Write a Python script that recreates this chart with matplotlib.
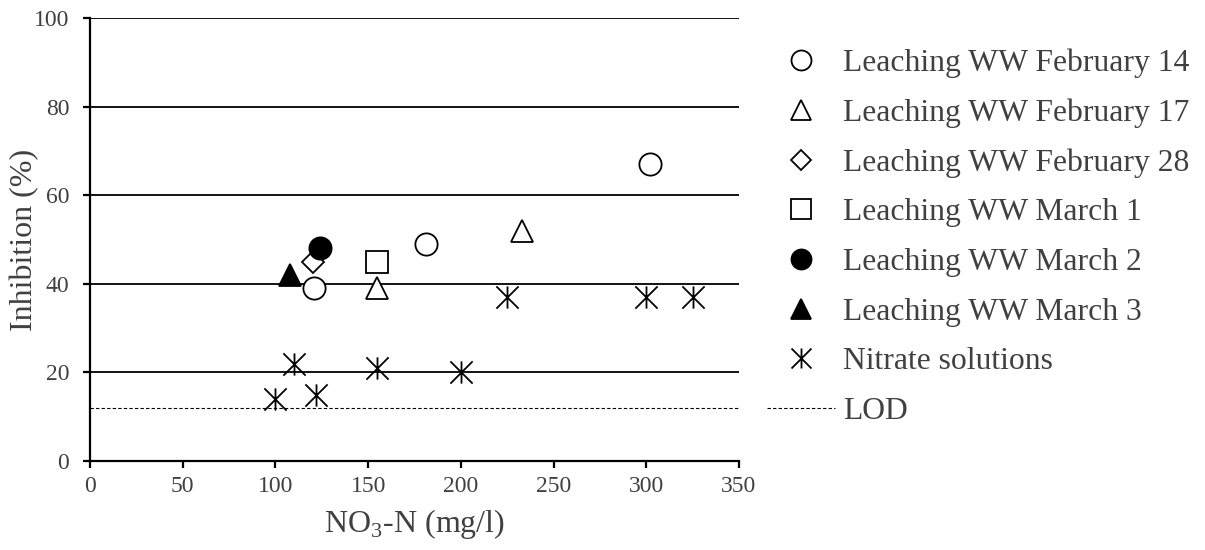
import matplotlib
matplotlib.use('Agg')
import matplotlib.pyplot as plt
from matplotlib.path import Path

# data
feb14_x = [121, 181, 302]
feb14_y = [39, 49, 67]
feb17_x = [155, 233]
feb17_y = [39, 52]
feb28_x = [120]
feb28_y = [45]
mar1_x = [155]
mar1_y = [45]
mar2_x = [124]
mar2_y = [48]
mar3_x = [108]
mar3_y = [42]
nitrate_x = [100, 110, 122, 155, 200, 225, 300, 325]
nitrate_y = [14, 22, 15, 21, 20, 37, 37, 37]
lod = 12

x_ticks = [0, 50, 100, 150, 200, 250, 300, 350]
y_ticks = [0, 20, 40, 60, 80, 100]

grey = '#404040'
plt.rcParams['font.family'] = ['Liberation Serif', 'DejaVu Serif']

# asterisk: X plus a vertical bar
star = Path([(0, -1), (0, 1), (-1, -1), (1, 1), (-1, 1), (1, -1)],
            [Path.MOVETO, Path.LINETO, Path.MOVETO, Path.LINETO, Path.MOVETO, Path.LINETO])

fig = plt.figure(figsize=(12.05, 5.5), dpi=100)
ax = fig.add_axes([90/1205, 1 - 461/550, 649/1205, 443/550])

ms = 16
mew = 1.3
common = dict(ls='none', markeredgecolor='black', markeredgewidth=mew, zorder=3)
ax.plot(feb14_x, feb14_y, marker='o', ms=ms, mfc='white', label='Leaching WW February 14', **common)
ax.plot(feb17_x, feb17_y, marker='^', ms=ms, mfc='white', label='Leaching WW February 17', **common)
ax.plot(feb28_x, feb28_y, marker='D', ms=11, mfc='white', label='Leaching WW February 28', **common)
ax.plot(mar1_x, mar1_y, marker='s', ms=ms, mfc='white', label='Leaching WW March 1', **common)
ax.plot(mar2_x, mar2_y, marker='o', ms=ms, mfc='black', label='Leaching WW March 2', **common)
ax.plot(mar3_x, mar3_y, marker='^', ms=ms, mfc='black', label='Leaching WW March 3', **common)
ax.plot(nitrate_x, nitrate_y, marker=star, ms=ms, mfc='none', label='Nitrate solutions', **common)
ax.axhline(lod, color='black', lw=0.8, ls=(0, (3, 2)), label='LOD', zorder=2)

ax.set_xlim(0, 350)
ax.set_ylim(0, 100)
ax.set_xticks(x_ticks)
ax.set_yticks(y_ticks)
ax.yaxis.grid(True, color='black', lw=1.3)
ax.set_axisbelow(True)
for s in ['top', 'right']:
    ax.spines[s].set_visible(False)
for s in ['left', 'bottom']:
    ax.spines[s].set_linewidth(1.6)
ax.tick_params(axis='both', length=5, width=1.6, color='black', labelcolor=grey, labelsize=17)
ax.tick_params(axis='x', pad=6)
ax.tick_params(axis='y', pad=10)

ax.set_xlabel('NO$_\\mathregular{3}$-N (mg/l)', fontsize=23, color=grey, labelpad=7)
ax.set_ylabel('Inhibition (%)', fontsize=23, color=grey, labelpad=-4)

ax.legend(loc='upper left', bbox_to_anchor=(767/1205, 1 - 48.5/550), bbox_transform=fig.transFigure,
          frameon=False, fontsize=22.8, labelcolor=grey, handlelength=2.15, handletextpad=0.26,
          borderpad=0, borderaxespad=0, labelspacing=0.645, markerscale=0.9)

fig.savefig('out.png', dpi=100)
